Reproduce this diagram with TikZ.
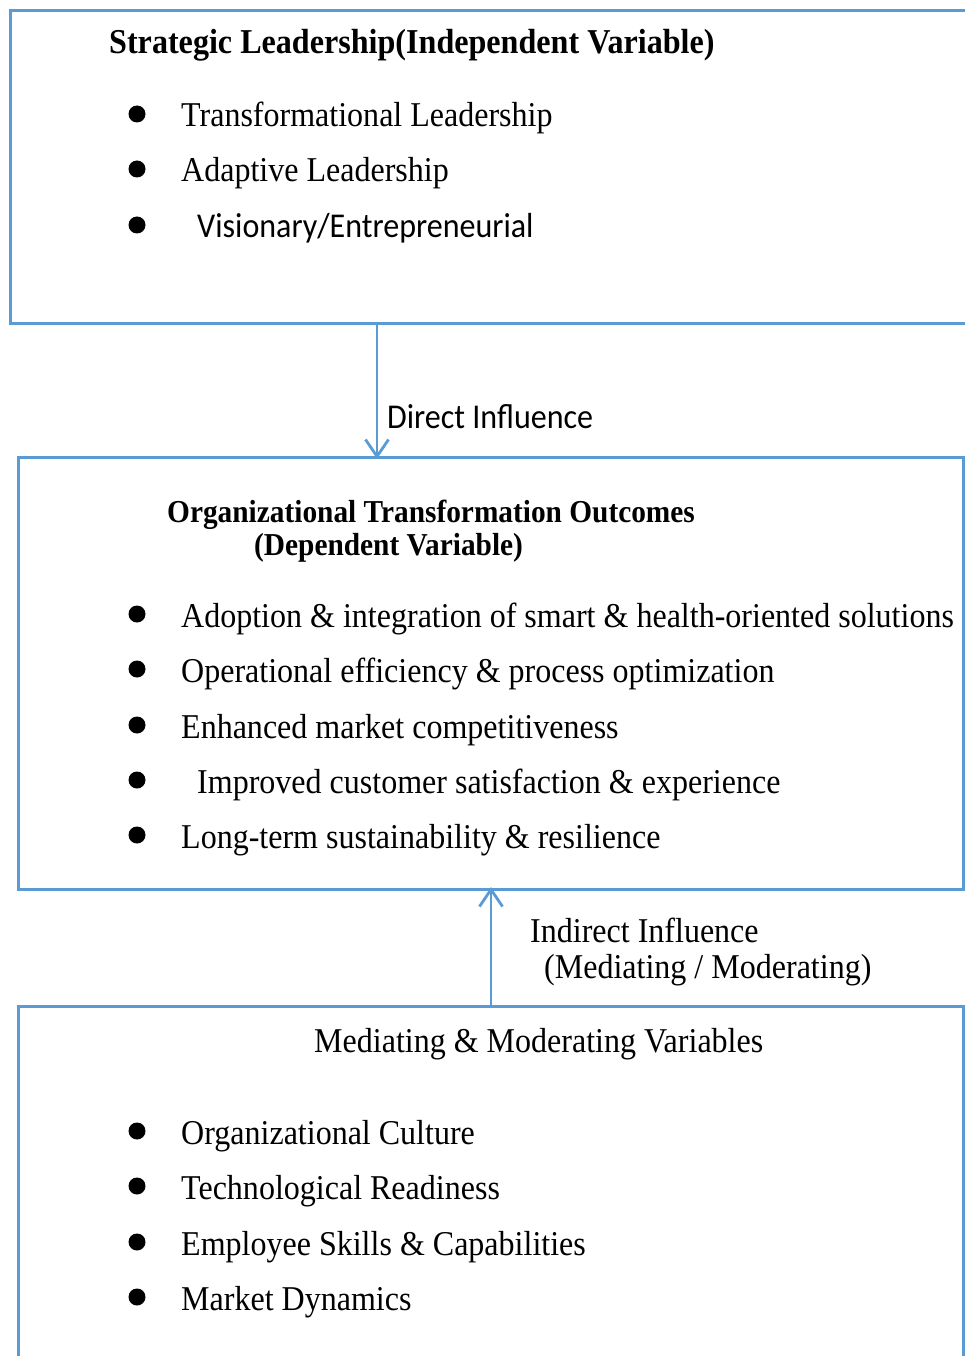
\documentclass[tikz,border=0pt]{standalone}
\usepackage{fontspec}
\setmainfont{Liberation Serif}[FakeStretch=0.92]
\newfontfamily\calibri{Carlito}[FakeStretch=0.92]
\usetikzlibrary{arrows.meta, positioning}

\definecolor{frameblue}{HTML}{5B9BD5}

\begin{document}
\begin{tikzpicture}[
    x=1pt, y=-1pt,
    frame/.style={rectangle, draw=frameblue, line width=3pt, outer sep=0pt, inner sep=0pt},
    dot/.style={circle, fill=black, inner sep=0pt, minimum size=17pt},
    item/.style={anchor=base west, inner sep=0pt, font=\fontsize{34.8}{40}\selectfont},
    citem/.style={item, font=\calibri\fontsize{34.8}{40}\selectfont},
    head/.style={anchor=base west, inner sep=0pt, font=\bfseries\fontsize{34.9}{40}\selectfont},
    subhead/.style={head, font=\bfseries\fontsize{31.9}{36}\selectfont},
    arrow/.style={-{Straight Barb[length=17pt, width=23pt]}, line width=2.8pt, draw=frameblue}
]
\useasboundingbox (0,0) rectangle (965,1356);

% the three boxes
\node[frame, minimum width=965pt, minimum height=312pt] (lead) at (492.5,167) {};
\node[frame, minimum width=945pt, minimum height=432pt] (outc) at (490.5,673) {};
\node[frame, minimum width=945pt, minimum height=370pt] (medi) at (490.5,1191) {};

% strategic leadership
\node[head] (leadtitle) at (109,54) {Strategic Leadership(Independent Variable)};
\foreach \y/\txt [count=\i] in {127/Transformational Leadership, 182/Adaptive Leadership}{
    \node[dot] (ld\i) at (137,\y-13) {};
    \node[item] (li\i) at (181,\y) {\txt};
}
\node[dot] (ld3) at (137,225) {};
\node[citem] (li3) at (197,238) {Visionary/Entrepreneurial};

% outcomes
\node[subhead] (outtitle) at (167,522) {Organizational Transformation Outcomes};
\node[subhead] (outsub) at (254,555) {(Dependent Variable)};
\foreach \y/\xx/\txt [count=\i] in {
    627/181/Adoption \& integration of smart \& health-oriented solutions,
    682/181/Operational efficiency \& process optimization,
    738/181/Enhanced market competitiveness,
    793/197/Improved customer satisfaction \& experience,
    848/181/Long-term sustainability \& resilience}{
    \node[dot] (od\i) at (137,\y-13) {};
    \node[item] (oi\i) at (\xx,\y) {\txt};
}

% mediating and moderating variables
\node[item] (meditle) at (314,1052) {Mediating \& Moderating Variables};
\foreach \y/\txt [count=\i] in {
    1144/Organizational Culture,
    1199/Technological Readiness,
    1255/Employee Skills \& Capabilities,
    1310/Market Dynamics}{
    \node[dot] (md\i) at (137,\y-13) {};
    \node[item] (mi\i) at (181,\y) {\txt};
}

% influences
\coordinate (direct) at (377,0);
\coordinate (indirect) at (491,0);
\draw[arrow] (lead.south -| direct) -- ([yshift=-2pt]outc.north -| direct);
\draw[arrow] (medi.north -| indirect) -- ([yshift=2pt]outc.south -| indirect);
\node[citem] (dirlabel) at (387,428) {Direct Influence};
\node[item] (indlabel) at (530,942) {Indirect Influence};
\node[item] (indsub) at (544,978) {(Mediating / Moderating)};

\end{tikzpicture}
\end{document}
